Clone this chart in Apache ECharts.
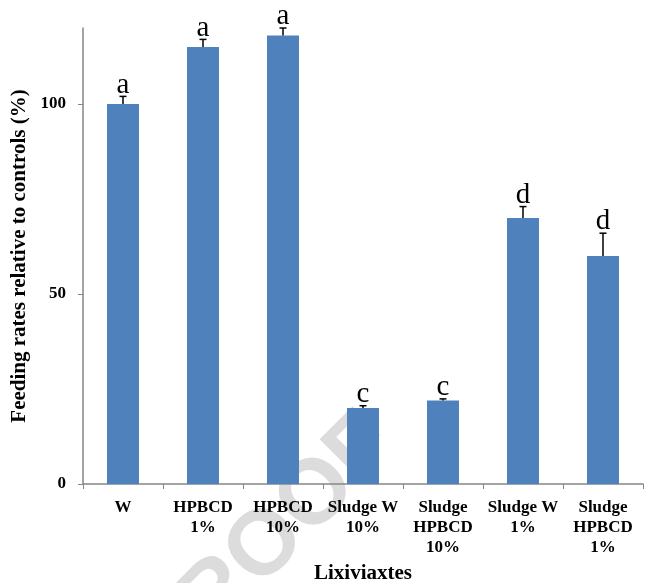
<!DOCTYPE html>
<html>
<head>
<meta charset="utf-8">
<script src="https://cdn.jsdelivr.net/npm/echarts@6/dist/echarts.min.js"></script>
<style>html,body{margin:0;padding:0;background:#fff;overflow:hidden;}#c{width:648px;height:583px;}</style>
</head>
<body>
<div id="c"></div>
<script>
var categories = ['W', 'HPBCD\n1%', 'HPBCD\n10%', 'Sludge W\n10%', 'Sludge\nHPBCD\n10%', 'Sludge W\n1%', 'Sludge\nHPBCD\n1%'];
var values = [100, 115, 118, 20, 22, 70, 60];
var errors = [2, 2, 2, 0.6, 0.4, 3, 6];
var letters = ['a', 'a', 'a', 'c', 'c', 'd', 'd'];
var yTicks = [0, 50, 100];

var chart = echarts.init(document.getElementById('c'));
var serif = '"Liberation Serif", "Times New Roman", serif';

var errData = values.map(function (v, i) { return [i, v, errors[i], letters[i]]; });

chart.setOption({
  animation: false,
  grid: { left: 83, right: 5, top: 28, bottom: 99, containLabel: false, outerBoundsMode: 'none' },
  graphic: [{
    type: 'text',
    z: -10,
    left: 118,
    top: 398,
    rotation: Math.PI / 4,
    style: { text: 'PROOF', fontSize: 92, fontWeight: 'bold', fontFamily: 'Liberation Sans, Arial, sans-serif', fill: '#dcdcdc' }
  }],
  xAxis: {
    type: 'category',
    data: categories,
    name: 'Lixiviaxtes',
    nameLocation: 'middle',
    nameGap: 78,
    nameTextStyle: { fontFamily: serif, fontWeight: 'bold', fontSize: 21, color: '#000' },
    axisLine: { lineStyle: { color: '#868686', width: 1.5 } },
    axisTick: { show: true, length: 5, lineStyle: { color: '#868686' } },
    axisLabel: { fontFamily: serif, fontWeight: 'bold', fontSize: 17, color: '#000', margin: 14, lineHeight: 20, interval: 0 }
  },
  yAxis: {
    type: 'value',
    min: 0,
    max: 120,
    interval: 50,
    name: 'Feeding rates relative to controls (%)',
    nameLocation: 'middle',
    nameGap: 49,
    nameTextStyle: { fontFamily: serif, fontWeight: 'bold', fontSize: 21, color: '#000' },
    splitLine: { show: false },
    axisLine: { show: true, lineStyle: { color: '#868686', width: 1.5 } },
    axisTick: { show: true, length: 5, customValues: yTicks, lineStyle: { color: '#868686' } },
    axisLabel: { fontFamily: serif, fontWeight: 'bold', fontSize: 17, color: '#000', margin: 17, customValues: yTicks }
  },
  series: [{
    type: 'bar',
    data: values,
    barWidth: '40%',
    itemStyle: { color: '#4F81BD' },
    z: 2
  }, {
    type: 'custom',
    data: errData,
    z: 3,
    renderItem: function (params, api) {
      var i = api.value(0), v = api.value(1), e = api.value(2);
      var base = api.coord([i, v]);
      var top = api.coord([i, v + e]);
      var hw = 3.5;
      return {
        type: 'group',
        children: [
          { type: 'line', shape: { x1: base[0], y1: base[1], x2: top[0], y2: top[1] }, style: { stroke: '#000', lineWidth: 1.5 } },
          { type: 'line', shape: { x1: top[0] - hw, y1: top[1], x2: top[0] + hw, y2: top[1] }, style: { stroke: '#000', lineWidth: 1.5 } },
          { type: 'text', x: top[0], y: top[1] + 3, style: { text: letters[params.dataIndex], fontFamily: serif, fontSize: 29, fill: '#000', align: 'center', verticalAlign: 'bottom' } }
        ]
      };
    }
  }]
});
</script>
</body>
</html>
